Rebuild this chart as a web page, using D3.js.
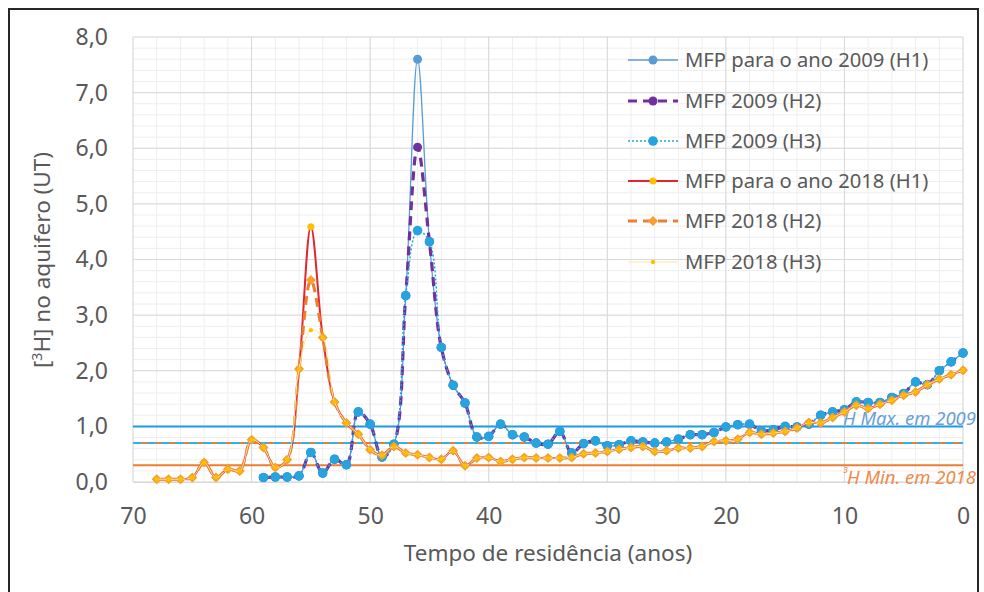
<!DOCTYPE html>
<html><head><meta charset="utf-8">
<script src="https://cdn.jsdelivr.net/npm/d3@7"></script>
<style>
html,body{margin:0;padding:0;background:#fff;}
svg{display:block;font-family:"Noto Sans",sans-serif;}
</style></head>
<body>
<svg id="c" width="984" height="592"></svg>
<script>
// ---- data ----
const years2009 = d3.range(59, -1, -1);
const mfp2009H1 = [0.08,0.09,0.09,0.11,0.53,0.16,0.41,0.31,1.26,1.04,0.45,0.68,3.35,7.60,4.32,2.42,1.74,1.42,0.81,0.82,1.04,0.85,0.81,0.70,0.68,0.91,0.52,0.69,0.74,0.65,0.67,0.74,0.72,0.70,0.72,0.77,0.85,0.85,0.89,0.99,1.03,1.04,0.92,0.94,1.00,0.99,1.04,1.20,1.26,1.30,1.44,1.43,1.43,1.52,1.59,1.80,1.75,2.00,2.16,2.32];
const mfp2009H2 = [0.08,0.09,0.09,0.11,0.53,0.16,0.41,0.31,1.26,1.04,0.45,0.68,3.35,6.02,4.32,2.42,1.74,1.42,0.81,0.82,1.04,0.85,0.81,0.70,0.68,0.91,0.52,0.69,0.74,0.65,0.67,0.74,0.72,0.70,0.72,0.77,0.85,0.85,0.89,0.99,1.03,1.04,0.92,0.94,1.00,0.99,1.04,1.20,1.26,1.30,1.44,1.43,1.43,1.52,1.59,1.80,1.75,2.00,2.16,2.32];
const mfp2009H3 = [0.08,0.09,0.09,0.11,0.53,0.16,0.41,0.31,1.26,1.04,0.45,0.68,3.35,4.52,4.32,2.42,1.74,1.42,0.81,0.82,1.04,0.85,0.81,0.70,0.68,0.91,0.52,0.69,0.74,0.65,0.67,0.74,0.72,0.70,0.72,0.77,0.85,0.85,0.89,0.99,1.03,1.04,0.92,0.94,1.00,0.99,1.04,1.20,1.26,1.30,1.44,1.43,1.43,1.52,1.59,1.80,1.75,2.00,2.16,2.32];
const years2018 = d3.range(68, -1, -1);
const mfp2018H1 = [0.05,0.05,0.05,0.08,0.35,0.08,0.23,0.20,0.76,0.62,0.26,0.40,2.03,4.59,2.60,1.44,1.06,0.86,0.58,0.48,0.64,0.52,0.49,0.44,0.41,0.56,0.29,0.43,0.44,0.37,0.41,0.44,0.43,0.43,0.43,0.44,0.51,0.52,0.55,0.59,0.62,0.64,0.55,0.56,0.61,0.61,0.64,0.73,0.74,0.77,0.89,0.86,0.88,0.91,0.97,1.07,1.06,1.16,1.26,1.38,1.32,1.40,1.47,1.56,1.62,1.75,1.85,1.93,2.01];
const mfp2018H2 = [0.05,0.05,0.05,0.08,0.35,0.08,0.23,0.20,0.76,0.62,0.26,0.40,2.03,3.63,2.60,1.44,1.06,0.86,0.58,0.48,0.64,0.52,0.49,0.44,0.41,0.56,0.29,0.43,0.44,0.37,0.41,0.44,0.43,0.43,0.43,0.44,0.51,0.52,0.55,0.59,0.62,0.64,0.55,0.56,0.61,0.61,0.64,0.73,0.74,0.77,0.89,0.86,0.88,0.91,0.97,1.07,1.06,1.16,1.26,1.38,1.32,1.40,1.47,1.56,1.62,1.75,1.85,1.93,2.01];
const mfp2018H3 = [0.05,0.05,0.05,0.08,0.35,0.08,0.23,0.20,0.76,0.62,0.26,0.40,2.03,2.73,2.60,1.44,1.06,0.86,0.58,0.48,0.64,0.52,0.49,0.44,0.41,0.56,0.29,0.43,0.44,0.37,0.41,0.44,0.43,0.43,0.43,0.44,0.51,0.52,0.55,0.59,0.62,0.64,0.55,0.56,0.61,0.61,0.64,0.73,0.74,0.77,0.89,0.86,0.88,0.91,0.97,1.07,1.06,1.16,1.26,1.38,1.32,1.40,1.47,1.56,1.62,1.75,1.85,1.93,2.01];
const seriesNames = ["MFP para o ano 2009 (H1)","MFP 2009 (H2)","MFP 2009 (H3)","MFP para o ano 2018 (H1)","MFP 2018 (H2)","MFP 2018 (H3)"];
const refValues = [1.0, 0.7, 0.7, 0.3];
const refLabels = ["\u00b3H Max. em 2009", "\u00b3H Min. em 2018"];
const xTicks = [70,60,50,40,30,20,10,0];
const yTicks = [0,1,2,3,4,5,6,7,8];
const xTitle = "Tempo de resid\u00eancia (anos)";

// ---- layout ----
const svg = d3.select("#c");
const L = 133, R = 963, T = 37, B = 482;
const x = d3.scaleLinear().domain([70, 0]).range([L, R]);
const y = d3.scaleLinear().domain([0, 8]).range([B, T]);
const fmt = d => d.toFixed(1).replace(".", ",");
const TXT = "#595959";

// border
svg.append("path").attr("d", `M9,592 L9,9 L978,9 L978,592`).attr("fill","none").attr("stroke","#262626").attr("stroke-width",2);

// grid
const g = svg.append("g");
g.selectAll(".mv").data(d3.range(0, 71, 2)).join("line")
  .attr("x1", d => x(d)).attr("x2", d => x(d)).attr("y1", T).attr("y2", B)
  .attr("stroke", "#EEEEEE").attr("stroke-width", 1);
g.selectAll(".mh").data(d3.range(0, 8.01, 0.2)).join("line")
  .attr("y1", d => y(d)).attr("y2", d => y(d)).attr("x1", L).attr("x2", R)
  .attr("stroke", "#EEEEEE").attr("stroke-width", 1);
g.selectAll(".Mv").data(xTicks).join("line")
  .attr("x1", d => x(d)).attr("x2", d => x(d)).attr("y1", T).attr("y2", B)
  .attr("stroke", "#D9D9D9").attr("stroke-width", 1);
g.selectAll(".Mh").data(yTicks).join("line")
  .attr("y1", d => y(d)).attr("y2", d => y(d)).attr("x1", L).attr("x2", R)
  .attr("stroke", "#D9D9D9").attr("stroke-width", 1);

// axes labels
const xAxis = d3.axisBottom(x).tickValues(xTicks).tickSize(0).tickPadding(26).tickFormat(d => d);
const xa = svg.append("g").attr("transform", `translate(0,${B})`).call(xAxis);
xa.select(".domain").attr("stroke", "#D9D9D9");
xa.selectAll("text").attr("font-size", 23).attr("fill", TXT).attr("font-family", "Noto Sans");
const yAxis = d3.axisLeft(y).tickValues(yTicks).tickSize(0).tickPadding(25).tickFormat(fmt);
const ya = svg.append("g").attr("transform", `translate(${L},0)`).call(yAxis);
ya.select(".domain").remove();
ya.selectAll("text").attr("font-size", 23).attr("fill", TXT).attr("font-family", "Noto Sans");

svg.append("text").attr("x", 548).attr("y", 561).attr("text-anchor", "middle")
  .attr("font-size", 22.5).attr("fill", TXT).text(xTitle);
const yt = svg.append("text").attr("transform", "translate(50,260) rotate(-90)").attr("text-anchor", "middle")
  .attr("font-size", 22.5).attr("fill", TXT);
yt.append("tspan").text("[");
yt.append("tspan").text("3").attr("font-size", 14).attr("dy", -8);
yt.append("tspan").text("H] no aquifero (UT)").attr("dy", 8);

// reference lines
const refStyles = [
  {c:"#1E9BDF", w:2, dash:null},
  {c:"#ED7D31", w:2, dash:null},
  {c:"#3AAEE0", w:2, dash:"9,5"},
  {c:"#ED7D31", w:2, dash:null}
];
svg.selectAll(".ref").data(refValues).join("line")
  .attr("x1", L).attr("x2", R).attr("y1", d => y(d)).attr("y2", d => y(d))
  .attr("stroke", (d,i) => refStyles[i].c).attr("stroke-width", (d,i) => refStyles[i].w)
  .attr("stroke-dasharray", (d,i) => refStyles[i].dash);

function supLabel(txt, xr, yy, color) {
  const t = svg.append("text").attr("x", xr).attr("y", yy).attr("text-anchor", "end")
    .attr("font-size", 18.5).attr("font-style", "italic").attr("fill", color);
  t.append("tspan").text(txt[0]).attr("font-size", 13).attr("dy", -6);
  t.append("tspan").text(txt.slice(1)).attr("dy", 6);
}
supLabel(refLabels[0], 976, y(1.0) - 1, "#6A9FD6");
supLabel(refLabels[1], 976, B + 2, "#EE8A4A");

// series
const curve = d3.curveCatmullRom.alpha(0.5);
const series = [
  {yr: years2009, v: mfp2009H1, c:"#5B9BD5", w:1.3, dash:null, m:"circle", mr:4.5, mc:"#5B9BD5"},
  {yr: years2009, v: mfp2009H2, c:"#7030A0", w:3.2, dash:"9,6", m:"circle", mr:4.5, mc:"#7030A0"},
  {yr: years2009, v: mfp2009H3, c:"#26A4DF", w:1.5, dash:"2,2", m:"circle", mr:4.8, mc:"#26A4DF"},
  {yr: years2018, v: mfp2018H1, c:"#E3262E", w:2, dash:null, m:"circle", mr:3.5, mc:"#FFC000"},
  {yr: years2018, v: mfp2018H2, c:"#ED7D31", w:3, dash:"9,6", m:"diamond", mr:5, mc:"#F5A030"},
  {yr: years2018, v: mfp2018H3, c:"#FFE699", w:1, dash:null, m:"circle", mr:2.2, mc:"#FFC000"}
];
const line = d3.line().x(d => x(d[0])).y(d => y(d[1])).curve(curve);
const diamond = r => `M0,${-r}L${r},0L0,${r}L${-r},0Z`;
function drawSeries(s, gg) {
  const pts = s.yr.map((yr, i) => [yr, s.v[i]]);
  gg.append("path").attr("d", line(pts)).attr("fill", "none").attr("stroke", s.c)
    .attr("stroke-width", s.w).attr("stroke-dasharray", s.dash);
  if (s.m === "circle") {
    gg.selectAll(null).data(pts).join("circle").attr("cx", d => x(d[0])).attr("cy", d => y(d[1]))
      .attr("r", s.mr).attr("fill", s.mc);
  } else {
    gg.selectAll(null).data(pts).join("path").attr("transform", d => `translate(${x(d[0])},${y(d[1])})`)
      .attr("d", diamond(s.mr)).attr("fill", s.mc);
  }
}
series.forEach(s => drawSeries(s, svg.append("g")));

// legend
const lg = svg.append("g");
const ly = [60, 101, 141, 181, 221, 262];
series.forEach((s, i) => {
  const gi = lg.append("g").attr("transform", `translate(0,${ly[i]})`);
  gi.append("line").attr("x1", 628).attr("x2", 678).attr("y1", 0).attr("y2", 0)
    .attr("stroke", s.c).attr("stroke-width", s.w).attr("stroke-dasharray", s.dash);
  if (s.m === "circle") gi.append("circle").attr("cx", 653).attr("cy", 0).attr("r", s.mr).attr("fill", s.mc);
  else gi.append("path").attr("transform", "translate(653,0)").attr("d", diamond(s.mr)).attr("fill", s.mc);
  gi.append("text").attr("x", 685).attr("y", 0).attr("dy", "0.35em").attr("font-size", 20.2)
    .attr("fill", TXT).text(seriesNames[i]);
});
</script>
</body></html>
